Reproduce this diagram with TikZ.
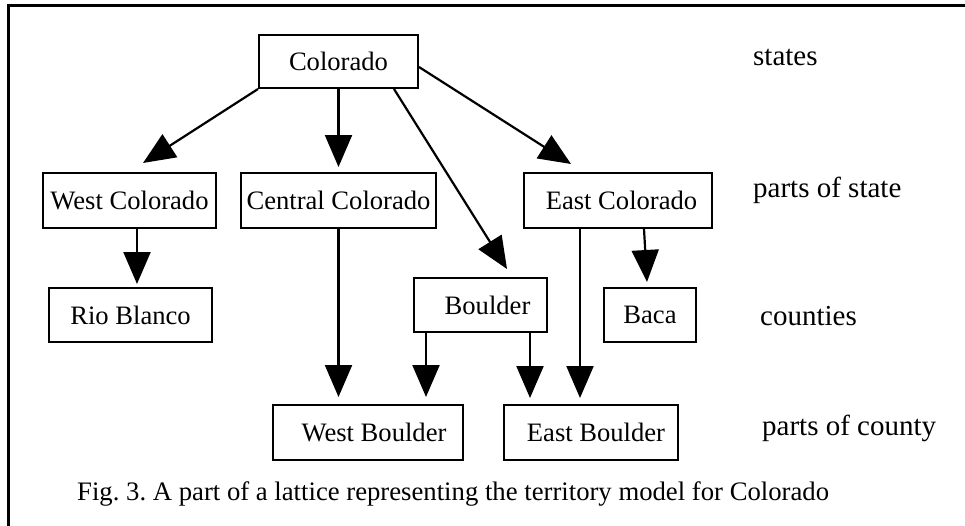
\documentclass[tikz,border=0pt]{standalone}
\usepackage{fontspec}
\setmainfont{Liberation Serif}
\usetikzlibrary{arrows.meta,calc}
\frenchspacing

\tikzset{
  unit/.style={draw, line width=2pt, inner sep=0pt,
    font=\fontsize{26.6}{30}\selectfont},
  levellabel/.style={anchor=base west, inner sep=0pt,
    font=\fontsize{29}{33}\selectfont},
  edge/.style={line width=2.2pt, -{Triangle[width=27pt,length=32pt]}}
}

\begin{document}
\begin{tikzpicture}[x=1pt, y=-1pt]
  \useasboundingbox (0,0) rectangle (965,525);
  % outer frame (only its top and left sides fall inside the page)
  \begin{scope}
    \clip (0,0) rectangle (965,525);
    \draw[line width=3pt] (8.5,5) rectangle (1100,700);
  \end{scope}

  % territory units
  \node[unit, minimum width=159pt, minimum height=53pt] (colo)  at (338.5,61.5) {Colorado};
  \node[unit, minimum width=173pt, minimum height=55pt] (wcol)  at (129.5,200.5) {West Colorado};
  \node[unit, minimum width=195pt, minimum height=55pt] (ccol)  at (338.5,200.5) {Central Colorado};
  \node[unit, minimum width=188pt, minimum height=55pt] (ecol)  at (618,200.5) {\hspace*{7pt}East Colorado};
  \node[unit, minimum width=163pt, minimum height=54pt] (rio)   at (130.5,315) {Rio Blanco};
  \node[unit, minimum width=133pt, minimum height=54pt] (bould) at (480.5,305) {\hspace*{14pt}Boulder};
  \node[unit, minimum width=92pt,  minimum height=54pt] (baca)  at (650,315) {Baca};
  \node[unit, minimum width=190pt, minimum height=55pt] (wb)    at (368,432.5) {\hspace*{12pt}West Boulder};
  \node[unit, minimum width=174pt, minimum height=55pt] (eb)    at (591,432.5) {\hspace*{10pt}East Boulder};

  % level labels
  \node[levellabel] (lstate)  at (753,65)  {states};
  \node[levellabel] (lpart)   at (753,197) {parts of state};
  \node[levellabel] (lcounty) at (760,325) {counties};
  \node[levellabel] (lpcount) at (762,435) {parts of county};

  % caption
  \node[anchor=base west, inner sep=0pt, font=\fontsize{26.7}{30}\selectfont]
    (caption) at (77,500) {Fig. 3. A part of a lattice representing the territory model for Colorado};

  % lattice edges
  \draw[edge] (colo.south west) -- ($(wcol.north)+(13.5,-9)$);
  \draw[edge] (colo.south) -- ($(ccol.north)+(0,-5)$);
  \draw[edge] ($(colo.south)+(55.5,0)$) -- ($(bould.north)+(26.5,-8)$);
  \draw[edge] ($(colo.east)+(0,5.5)$) -- ($(ecol.north)+(-47,-8)$);
  \draw[edge] ($(wcol.south)+(7.5,0)$) -- ($(rio.north)+(6.5,-3)$);
  \draw[edge] (ccol.south) -- ($(wb.north)+(-29.5,-7)$);
  \draw[edge] ($(bould.south)+(-54.5,0)$) -- ($(wb.north)+(58,-7)$);
  \draw[edge] ($(bould.south)+(49.5,0)$) -- ($(eb.north)+(-61,-6)$);
  \draw[edge] ($(ecol.south)+(-38,0)$) -- ($(eb.north)+(-11,-6)$);
  \draw[edge] ($(ecol.south)+(26,0)$) -- ($(baca.north)+(-3,-5)$);
\end{tikzpicture}
\end{document}
